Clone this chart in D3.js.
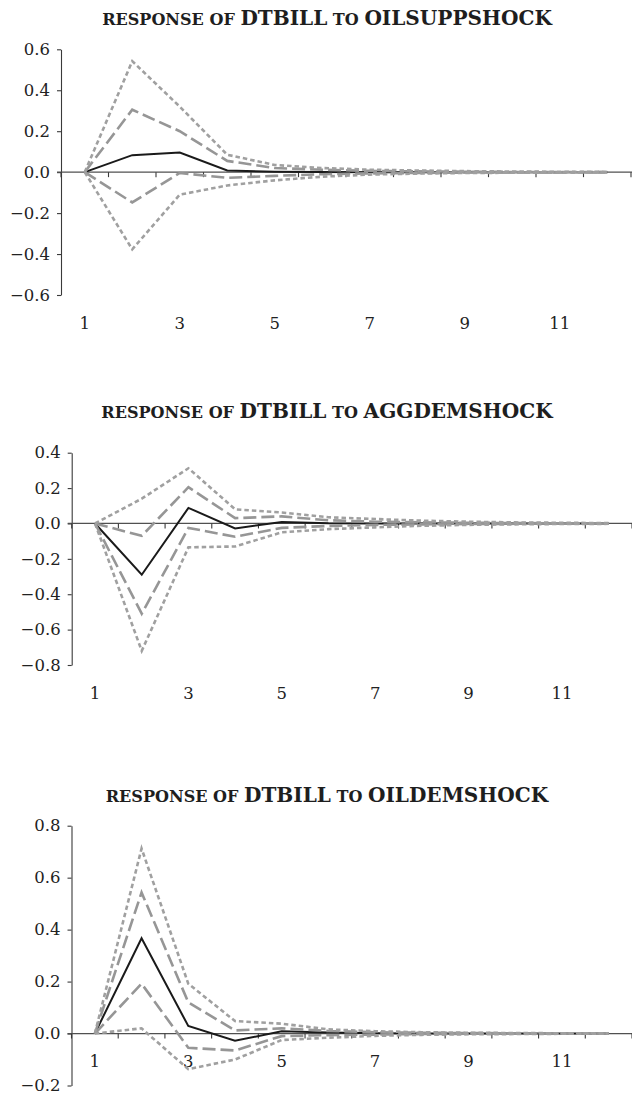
<!DOCTYPE html>
<html>
<head>
<meta charset="utf-8">
<script src="https://cdn.jsdelivr.net/npm/d3@7"></script>
<style>
  html, body { margin: 0; padding: 0; background: #fff; }
  svg { display: block; }
</style>
</head>
<body>
<script>
// Horizon (periods after the shock) and the labelled ones
const periods = [1, 2, 3, 4, 5, 6, 7, 8, 9, 10, 11, 12];
const xTickLabels = [1, 3, 5, 7, 9, 11];

// Title pieces: [text, isSmallCaps]
const titleSupp = [["RESPONSE OF ", true], ["DTBILL", false], [" TO ", true], ["OILSUPPSHOCK", false]];
const titleAgg  = [["RESPONSE OF ", true], ["DTBILL", false], [" TO ", true], ["AGGDEMSHOCK", false]];
const titleOil  = [["RESPONSE OF ", true], ["DTBILL", false], [" TO ", true], ["OILDEMSHOCK", false]];

// y tick values per panel
const yTicksSupp = [-0.6, -0.4, -0.2, 0.0, 0.2, 0.4, 0.6];
const yTicksAgg  = [-0.8, -0.6, -0.4, -0.2, 0.0, 0.2, 0.4];
const yTicksOil  = [-0.2, 0.0, 0.2, 0.4, 0.6, 0.8];

// Response of DTBILL to an oil supply shock
const suppResponse = [0, 0.083, 0.096, 0.008, 0.002, 0.001, 0, 0, 0, 0, 0, 0];
const suppBand1Up  = [0, 0.305, 0.200, 0.055, 0.020, 0.012, 0.006, 0.004, 0.002, 0.001, 0.001, 0];
const suppBand1Lo  = [0, -0.148, -0.004, -0.028, -0.018, -0.010, -0.006, -0.004, -0.002, -0.001, -0.001, 0];
const suppBand2Up  = [0, 0.542, 0.320, 0.085, 0.035, 0.020, 0.012, 0.008, 0.005, 0.003, 0.002, 0.001];
const suppBand2Lo  = [0, -0.377, -0.110, -0.065, -0.040, -0.022, -0.012, -0.007, -0.004, -0.003, -0.002, -0.001];

// Response of DTBILL to an aggregate demand shock
const aggResponse = [0, -0.290, 0.088, -0.028, 0.008, 0.001, 0, 0, 0, 0, 0, 0];
const aggBand1Up  = [0, -0.070, 0.205, 0.030, 0.040, 0.018, 0.010, 0.006, 0.004, 0.002, 0.001, 0.001];
const aggBand1Lo  = [0, -0.510, -0.025, -0.075, -0.025, -0.014, -0.008, -0.005, -0.003, -0.002, -0.001, -0.001];
const aggBand2Up  = [0, 0.140, 0.312, 0.080, 0.062, 0.035, 0.025, 0.016, 0.010, 0.006, 0.004, 0.002];
const aggBand2Lo  = [0, -0.720, -0.135, -0.130, -0.050, -0.032, -0.022, -0.013, -0.008, -0.005, -0.003, -0.002];

// Response of DTBILL to an oil-specific demand shock
const oilResponse = [0, 0.367, 0.029, -0.028, 0.009, 0.004, 0.001, 0, 0, 0, 0, 0];
const oilBand1Up  = [0, 0.543, 0.120, 0.012, 0.020, 0.010, 0.005, 0.003, 0.002, 0.001, 0.001, 0];
const oilBand1Lo  = [0, 0.192, -0.055, -0.065, -0.010, -0.006, -0.004, -0.002, -0.001, -0.001, 0, 0];
const oilBand2Up  = [0, 0.712, 0.192, 0.048, 0.038, 0.016, 0.009, 0.005, 0.003, 0.002, 0.001, 0.001];
const oilBand2Lo  = [0, 0.020, -0.137, -0.100, -0.025, -0.016, -0.009, -0.005, -0.003, -0.002, -0.001, -0.001];

const W = 632, H = 1096;
const FONT = "'DejaVu Serif', 'Liberation Serif', serif";
const TICK_FONT = 16.5;

const svg = d3.select("body").append("svg")
  .attr("width", W).attr("height", H)
  .attr("viewBox", `0 0 ${W} ${H}`);

const panels = [
  { title: titleSupp, yTicks: yTicksSupp, response: suppResponse,
    b1u: suppBand1Up, b1l: suppBand1Lo, b2u: suppBand2Up, b2l: suppBand2Lo,
    frame: { left: 61, right: 631, top: 49.3, bottom: 295, labelY: 329, titleY: 25 } },
  { title: titleAgg, yTicks: yTicksAgg, response: aggResponse,
    b1u: aggBand1Up, b1l: aggBand1Lo, b2u: aggBand2Up, b2l: aggBand2Lo,
    frame: { left: 71.7, right: 632, top: 452.7, bottom: 665, labelY: 699, titleY: 418 } },
  { title: titleOil, yTicks: yTicksOil, response: oilResponse,
    b1u: oilBand1Up, b1l: oilBand1Lo, b2u: oilBand2Up, b2l: oilBand2Lo,
    frame: { left: 71.5, right: 632, top: 825.7, bottom: 1085.5, labelY: 1067, titleY: 802 } }
];

const fmt = d3.format(".1f");
const titleNodes = [];

panels.forEach(p => {
  const f = p.frame;
  const g = svg.append("g");

  const x = d3.scaleBand().domain(periods).range([f.left, f.right]).padding(0);
  const cx = d => x(d) + x.bandwidth() / 2;
  const y = d3.scaleLinear()
    .domain([d3.min(p.yTicks), d3.max(p.yTicks)])
    .range([f.bottom, f.top]);

  // Title with small-caps pieces
  const t = g.append("text")
    .attr("x", 327).attr("y", f.titleY)
    .attr("text-anchor", "middle")
    .attr("font-family", FONT)
    .attr("font-weight", "bold")
    .attr("fill", "#1e1e1e")
    .style("white-space", "pre");
  t.selectAll("tspan").data(p.title).join("tspan")
    .attr("font-size", d => d[1] ? 16 : 20)
    .text(d => d[0]);
  titleNodes.push(t);

  // y axis
  const yAxis = d3.axisLeft(y)
    .tickValues(p.yTicks)
    .tickSize(4)
    .tickSizeOuter(0)
    .tickPadding(7)
    .tickFormat(d => fmt(d));
  const ya = g.append("g")
    .attr("transform", `translate(${f.left},0)`)
    .call(yAxis);
  ya.select(".domain").attr("stroke", "#3a3a3a").attr("stroke-width", 1.1);
  ya.selectAll(".tick line").attr("stroke", "#3a3a3a").attr("stroke-width", 1.1);
  ya.selectAll(".tick text")
    .attr("font-family", FONT).attr("font-size", TICK_FONT).attr("fill", "#222");

  // x axis line at zero, running to the page edge
  const y0 = y(0);
  g.append("line")
    .attr("x1", f.left - 4).attr("x2", W + 2)
    .attr("y1", y0).attr("y2", y0)
    .attr("stroke", "#505050").attr("stroke-width", 1.3);

  // category boundary ticks
  const bounds = periods.map(d => x(d)).concat([x(periods[periods.length - 1]) + x.bandwidth()]);
  g.selectAll("line.xt").data(bounds).join("line")
    .attr("class", "xt")
    .attr("x1", d => d).attr("x2", d => d)
    .attr("y1", y0).attr("y2", y0 + 5)
    .attr("stroke", "#3a3a3a").attr("stroke-width", 1.1);

  // x labels
  g.selectAll("text.xl").data(xTickLabels).join("text")
    .attr("class", "xl")
    .attr("x", d => cx(d)).attr("y", f.labelY)
    .attr("text-anchor", "middle")
    .attr("font-family", FONT).attr("font-size", TICK_FONT).attr("fill", "#222")
    .text(d => d);

  const line = d3.line().x((d, i) => cx(periods[i])).y(d => y(d));

  // point estimate
  g.append("path").datum(p.response)
    .attr("d", line).attr("fill", "none")
    .attr("stroke", "#1a1a1a").attr("stroke-width", 2)
    .attr("stroke-linejoin", "miter");

  // one standard error band (long dashes)
  [p.b1u, p.b1l].forEach(s => {
    g.append("path").datum(s)
      .attr("d", line).attr("fill", "none")
      .attr("stroke", "#969696").attr("stroke-width", 2.6)
      .attr("stroke-dasharray", "13,5");
  });

  // two standard error band (short dashes)
  [p.b2u, p.b2l].forEach(s => {
    g.append("path").datum(s)
      .attr("d", line).attr("fill", "none")
      .attr("stroke", "#a0a0a0").attr("stroke-width", 2.6)
      .attr("stroke-dasharray", "4.5,3");
  });
});

// Fit the titles to a common printed width
const targetW = 450;
const w0 = titleNodes[0].node().getComputedTextLength();
const k = targetW / w0;
titleNodes.forEach(t => {
  t.selectAll("tspan").attr("font-size", d => (d[1] ? 16 : 20) * k);
});
</script>
</body>
</html>
